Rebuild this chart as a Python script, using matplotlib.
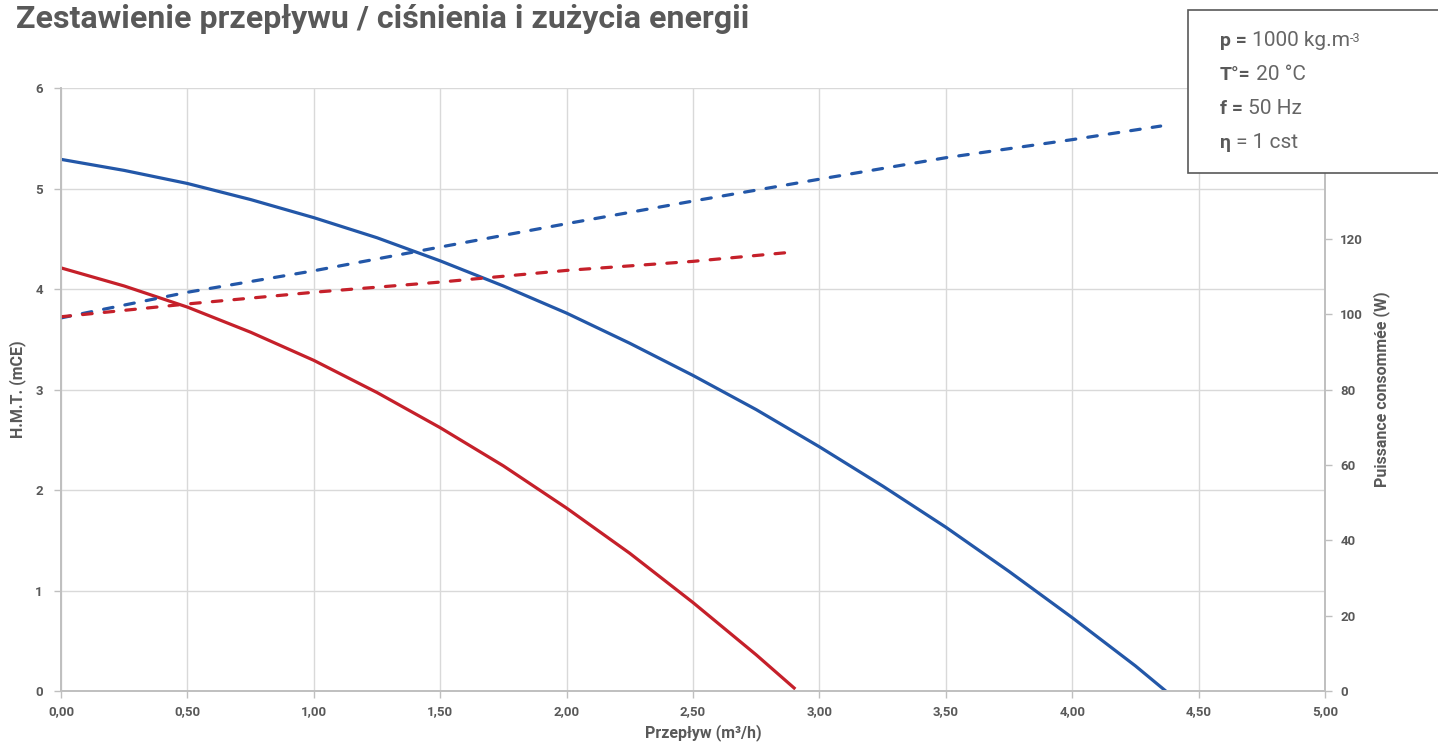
import matplotlib
matplotlib.use('Agg')
import matplotlib.pyplot as plt
from matplotlib.patches import Rectangle
from matplotlib.ticker import FuncFormatter

# data
q_blue = [0, 0.25, 0.5, 0.75, 1.0, 1.25, 1.5, 1.75, 2.0, 2.25, 2.5, 2.75,
          3.0, 3.25, 3.5, 3.75, 4.0, 4.25, 4.37]
h_blue = [5.29, 5.18, 5.05, 4.89, 4.71, 4.51, 4.28, 4.03, 3.76, 3.46, 3.14, 2.80,
          2.43, 2.04, 1.63, 1.19, 0.73, 0.25, 0.0]
q_red = [0, 0.25, 0.5, 0.75, 1.0, 1.25, 1.5, 1.75, 2.0, 2.25, 2.5, 2.75, 2.9]
h_red = [4.21, 4.03, 3.82, 3.57, 3.29, 2.97, 2.62, 2.24, 1.82, 1.37, 0.88, 0.36, 0.03]

qp_blue = [0, 0.5, 1.0, 1.5, 2.0, 2.5, 3.0, 3.5, 4.0, 4.35]
p_blue = [99.0, 105.8, 111.5, 117.8, 124.0, 130.0, 135.8, 141.5, 146.3, 149.9]
qp_red = [0, 0.5, 1.0, 1.5, 2.0, 2.5, 2.9]
p_red = [99.3, 102.7, 105.8, 108.5, 111.6, 114.0, 116.5]

x_ticks = [0, 0.5, 1.0, 1.5, 2.0, 2.5, 3.0, 3.5, 4.0, 4.5, 5.0]
h_ticks = [0, 1, 2, 3, 4, 5, 6]
p_ticks = [0, 20, 40, 60, 80, 100, 120, 140, 160]

info_bold = ['p =', 'T°=', 'f =', 'η']
info_rest = [' 1000 kg.m', ' 20 °C', ' 50 Hz', ' = 1 cst']

BLUE = '#2357a8'
RED = '#c5202a'
GRAY = '#595959'
GRID = '#d9d9d9'

plt.rcParams['font.family'] = ['Roboto', 'DejaVu Sans']

fig = plt.figure(figsize=(14.38, 7.43), dpi=100)
ax = fig.add_axes([61/1438, 1 - 691/743, (1325-61)/1438, (691-88)/743])
ax2 = ax.twinx()

dash = (0, (3.0, 3.8))
ax.plot(q_blue, h_blue, color=BLUE, lw=2.3)
ax.plot(q_red, h_red, color=RED, lw=2.3)
ax2.plot(qp_blue, p_blue, color=BLUE, lw=2.3, ls=dash, dash_capstyle='round')
ax2.plot(qp_red, p_red, color=RED, lw=2.3, ls=dash, dash_capstyle='round')

ax.set_xlim(0, 5)
ax.set_ylim(0, 6)
ax2.set_ylim(0, 160)
ax.set_xticks(x_ticks)
ax.set_yticks(h_ticks)
ax2.set_yticks(p_ticks)
ax.xaxis.set_major_formatter(FuncFormatter(lambda v, p: f'{v:.2f}'.replace('.', ',')))

ax.grid(True, color=GRID, lw=1)
ax.set_axisbelow(True)
for a in (ax, ax2):
    a.spines['top'].set_visible(False)
    for s in ('left', 'bottom', 'right'):
        a.spines[s].set_color('#bfbfbf')
        a.spines[s].set_linewidth(1.2)
    a.tick_params(colors='#bfbfbf', labelcolor=GRAY, labelsize=9.5, length=5, width=1)
    for lab in a.get_xticklabels() + a.get_yticklabels():
        lab.set_fontweight('bold')
ax.tick_params(axis='x', pad=5)
ax.tick_params(axis='y', pad=8)
ax2.tick_params(axis='y', pad=6)

ax.set_xlabel('Przepływ (m³/h)', fontsize=11.5, fontweight='bold', color=GRAY)
ax.set_ylabel('H.M.T. (mCE)', fontsize=11.5, fontweight='bold', color=GRAY)
ax2.set_ylabel('Puissance consommée (W)', fontsize=11.5, fontweight='bold', color=GRAY)
ax.xaxis.set_label_coords(0.508, -0.0697)
ax.yaxis.set_label_coords(-0.034, 0.5)
ax2.yaxis.set_label_coords(1.0445, 0.5)
for lab in (ax.xaxis.label, ax.yaxis.label, ax2.yaxis.label):
    lab.set_va('center')

fig.text(16/1438, 1 - 19/743, 'Zestawienie przepływu / ciśnienia i zużycia energii',
         fontsize=23.1, fontweight='bold', color=GRAY, va='center', ha='left')

# info box, on top of the plot
bx = fig.add_axes([1188/1438, 1 - 173/743, 252/1438, 163/743], zorder=10)
bx.set_xlim(0, 1)
bx.set_ylim(0, 1)
bx.axis('off')
bx.add_patch(Rectangle((0, 0), 1.2, 1, transform=bx.transAxes, facecolor='white',
                       edgecolor='#595959', lw=1.2, clip_on=False))
ys = [41, 75, 109, 143]
for y, b, r in zip(ys, info_bold, info_rest):
    t = bx.text(32/252, (173 - y)/163, b, fontsize=14, fontweight='bold',
                color=GRAY, va='center', ha='left')
    t2 = bx.annotate(r, xy=(1, 0.5), xycoords=t, va='center', ha='left',
                     fontsize=15, fontweight='normal', color='#666666',
                     annotation_clip=False)
    if b == 'p =':
        bx.annotate('-3', xy=(1, 0.95), xycoords=t2, va='top', ha='left',
                    fontsize=9, fontweight='normal', color='#666666',
                    annotation_clip=False)

fig.savefig('out.png', dpi=100)
